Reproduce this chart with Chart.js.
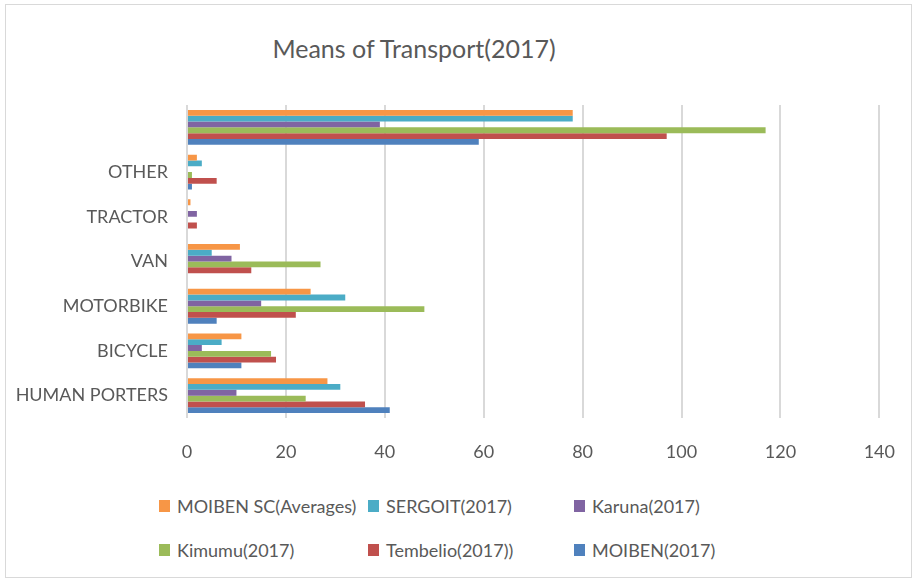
<!DOCTYPE html>
<html>
<head>
<meta charset="utf-8">
<title>Means of Transport(2017)</title>
<script src="https://cdn.jsdelivr.net/npm/chart.js@4.4.1/dist/chart.umd.min.js"></script>
<style>
html,body{margin:0;padding:0;background:#fff}
.frame{position:relative;width:918px;height:582px;font-family:Lato,'Open Sans',sans-serif;color:#595959;overflow:hidden}
.border{position:absolute;left:5px;top:4px;width:907px;height:574px;border:1px solid #d9d9d9;box-sizing:border-box}
.title{position:absolute;left:0;width:828px;top:30px;text-align:center;font-size:25px;line-height:36px}
.plot{position:absolute;left:0;top:0;width:918px;height:475px}
.legend{position:absolute;left:159px;top:484px;display:grid;grid-template-columns:209px 206px auto;grid-auto-rows:44px}
.legend span{display:flex;align-items:center;font-size:18px;white-space:nowrap}
.legend i{display:inline-block;width:11px;height:12px;margin-right:7px}
</style>
</head>
<body>
<div class="frame">
  <div class="border"></div>
  <div class="title">Means of Transport(2017)</div>
  <div class="plot"><canvas id="chart"></canvas></div>
  <div class="legend" id="legend"></div>
</div>
<script>
// categories listed top to bottom (first one has no label)
const categories = ['', 'OTHER', 'TRACTOR', 'VAN', 'MOTORBIKE', 'BICYCLE', 'HUMAN PORTERS'];
const xTicks = [0, 20, 40, 60, 80, 100, 120, 140];

const moibenSc = [78, 2, 0.7, 10.7, 25, 11, 28.4];
const sergoit  = [78, 3, 0, 5, 32, 7, 31];
const karuna   = [39, 0, 2, 9, 15, 3, 10];
const kimumu   = [117, 1, 0, 27, 48, 17, 24];
const tembelio = [97, 6, 2, 13, 22, 18, 36];
const moiben   = [59, 1, 0, 0, 6, 11, 41];

const seriesNames = ['MOIBEN SC(Averages)', 'SERGOIT(2017)', 'Karuna(2017)', 'Kimumu(2017)', 'Tembelio(2017))', 'MOIBEN(2017)'];
const seriesData = [moibenSc, sergoit, karuna, kimumu, tembelio, moiben];
const colors = ['#F79646', '#4BACC6', '#8064A2', '#9BBB59', '#C0504D', '#4F81BD'];

const txt = '#595959';
const font = { family: "Lato, 'Open Sans', sans-serif", size: 18 };

const chart = new Chart(document.getElementById('chart'), {
  type: 'bar',
  data: {
    labels: categories,
    datasets: seriesNames.map((name, i) => ({
      label: name,
      data: seriesData[i],
      backgroundColor: colors[i],
      borderWidth: 0,
      categoryPercentage: 0.78,
      barPercentage: 1
    }))
  },
  options: {
    indexAxis: 'y',
    responsive: true,
    maintainAspectRatio: false,
    animation: false,
    layout: { padding: { top: 105, right: 38, left: 0, bottom: 0 } },
    plugins: { legend: { display: false }, title: { display: false }, tooltip: { enabled: false } },
    scales: {
      x: {
        min: 0, max: 140,
        afterBuildTicks: s => { s.ticks = xTicks.map(v => ({ value: v })); },
        afterFit: s => { s.height = 57; },
        grid: { color: '#d9d9d9', lineWidth: 2, drawTicks: false },
        border: { display: false },
        ticks: { color: txt, font, padding: 23 }
      },
      y: {
        afterFit: s => { s.width = 187; },
        grid: { display: false, drawTicks: false },
        border: { display: false },
        ticks: { color: txt, font, padding: 19 }
      }
    }
  }
});

// legend in Excel-style fixed columns
const legend = document.getElementById('legend');
chart.data.datasets.forEach(ds => {
  const item = document.createElement('span');
  const sw = document.createElement('i');
  sw.style.background = ds.backgroundColor;
  item.appendChild(sw);
  item.appendChild(document.createTextNode(ds.label));
  legend.appendChild(item);
});
</script>
</body>
</html>
